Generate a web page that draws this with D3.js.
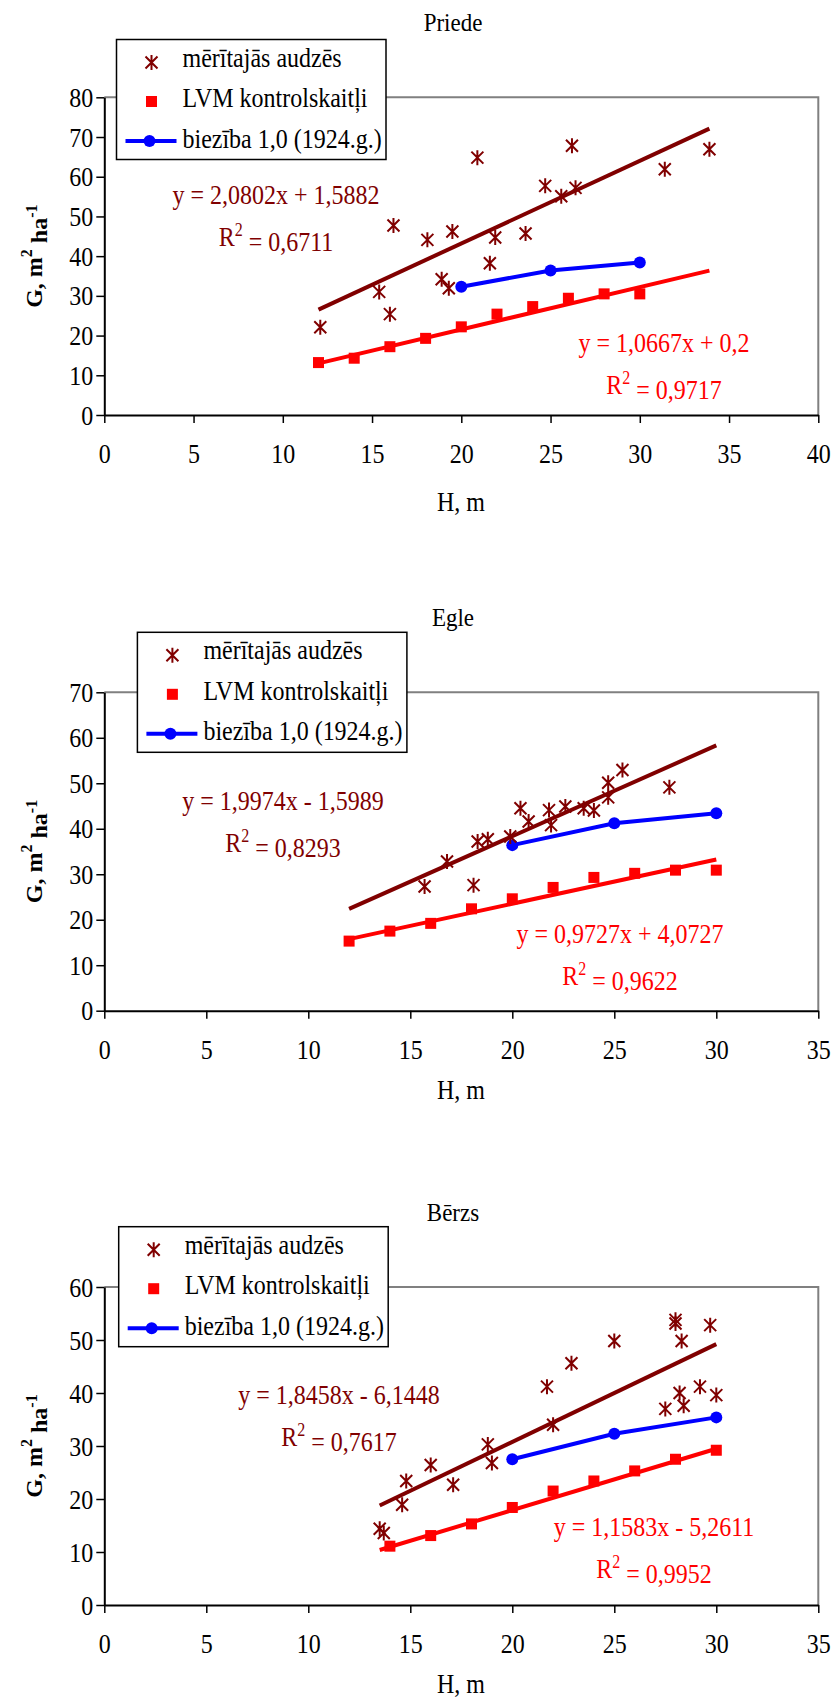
<!DOCTYPE html>
<html lang="lv">
<head>
<meta charset="UTF-8">
<title>G pret H: Priede, Egle, Bērzs</title>
<script src="https://cdn.jsdelivr.net/npm/d3@7"></script>
<style>
  body { margin: 0; background: #fff; }
  svg text { font-family: "Liberation Serif", "Times New Roman", serif; fill: #000; }
</style>
</head>
<body>
<svg id="chart" width="834" height="1702"></svg>
<script>
// ---- data ----
const chartNames = ["Priede", "Egle", "Bērzs"];
const legendNames = ["mērītajās audzēs", "LVM kontrolskaitļi", "biezība 1,0 (1924.g.)"];

// Priede
const priedeMeasH = [12.1, 15.4, 16.0, 16.2, 18.1, 19.5, 18.9, 19.3, 20.9, 21.6, 21.9, 23.6, 24.7, 25.6, 26.4, 26.2, 31.4, 33.9];
const priedeMeasG = [22.1, 31.0, 25.4, 47.7, 44.1, 46.2, 34.2, 31.9, 64.8, 38.2, 44.7, 45.7, 57.7, 55.1, 57.2, 67.8, 61.9, 66.9];
const priedeLvmH = [12, 14, 16, 18, 20, 22, 24, 26, 28, 30];
const priedeLvmG = [13.2, 14.3, 17.2, 19.3, 22.2, 25.4, 27.3, 29.4, 30.5, 30.5];
const priedeBioH = [20, 25, 30];
const priedeBioG = [32.3, 36.4, 38.4];
const priedeTrend = [[2.0802, 1.5882], [1.0667, 0.2]];
const priedeEq = [["y = 2,0802x + 1,5882", "0,6711"], ["y = 1,0667x + 0,2", "0,9717"]];

// Egle
const egleMeasH = [15.7, 16.8, 18.1, 18.3, 18.8, 19.9, 20.4, 20.8, 21.8, 21.9, 22.6, 23.5, 24.0, 24.7, 24.7, 25.4, 27.7];
const egleMeasG = [27.3, 32.8, 27.6, 37.2, 37.7, 38.3, 44.5, 41.6, 44.1, 40.8, 44.9, 44.5, 44.0, 50.1, 46.9, 52.9, 49.1];
const egleLvmH = [12, 14, 16, 18, 20, 22, 24, 26, 28, 30];
const egleLvmG = [15.3, 17.5, 19.2, 22.4, 24.6, 27.1, 29.3, 30.2, 30.9, 30.9];
const egleBioH = [20, 25, 30];
const egleBioG = [36.4, 41.2, 43.4];
const egleTrend = [[1.9974, -1.5989], [0.9727, 4.0727]];
const egleEq = [["y = 1,9974x - 1,5989", "0,8293"], ["y = 0,9727x + 4,0727", "0,9622"]];

// Bērzs
const berzsMeasH = [13.5, 13.7, 14.6, 14.8, 16.0, 17.1, 18.8, 19.0, 21.7, 22.0, 22.9, 25.0, 27.5, 28.0, 28.0, 28.2, 28.3, 28.4, 29.2, 29.7, 30.0];
const berzsMeasG = [14.4, 13.6, 18.9, 23.4, 26.4, 22.7, 30.3, 26.8, 41.2, 34.0, 45.6, 49.8, 37.0, 53.8, 53.1, 40.0, 49.8, 37.6, 41.2, 52.8, 39.6];
const berzsLvmH = [14, 16, 18, 20, 22, 24, 26, 28, 30];
const berzsLvmG = [11.1, 13.1, 15.3, 18.4, 21.5, 23.4, 25.3, 27.5, 29.2];
const berzsBioH = [20, 25, 30];
const berzsBioG = [27.5, 32.3, 35.4];
const berzsTrend = [[1.8458, -6.1448], [1.1583, -5.2611]];
const berzsEq = [["y = 1,8458x - 6,1448", "0,7617"], ["y = 1,1583x - 5,2611", "0,9952"]];

const xMaxes = [40, 35, 35];
const yMaxes = [80, 70, 60];

// ---- layout ----
const L = 104.3, R = 818.3;
const tops = [97.3, 692.3, 1287];
const bottoms = [415, 1010.7, 1605];
const legendPos = [[116.5, 39.5], [137.4, 632.3], [118.7, 1226.7]];
// equation label centres (x, baseline of first line)
const eqPos = [
  [[276, 204], [664, 352]],
  [[283, 810], [620, 943]],
  [[339, 1404], [654, 1536]]
];
const xTitleGap = [96, 88, 88];
const SY = 1.12; // the original text is a little taller than it is wide

const BROWN = "#800000", RED = "#ff0000", BLUE = "#0000ff";
const svg = d3.select("#chart");

const charts = [
  { meas: [priedeMeasH, priedeMeasG], lvm: [priedeLvmH, priedeLvmG], bio: [priedeBioH, priedeBioG], trend: priedeTrend, eq: priedeEq },
  { meas: [egleMeasH, egleMeasG], lvm: [egleLvmH, egleLvmG], bio: [egleBioH, egleBioG], trend: egleTrend, eq: egleEq },
  { meas: [berzsMeasH, berzsMeasG], lvm: [berzsLvmH, berzsLvmG], bio: [berzsBioH, berzsBioG], trend: berzsTrend, eq: berzsEq }
];

const starPath = "M-6,-6L6,6M-6,6L6,-6M0,-7.5V7.5";

function drawStar(sel) {
  sel.append("path").attr("d", starPath).attr("fill", "none")
    .attr("stroke", BROWN).attr("stroke-width", 2);
}

// text placed at (x, y) baseline, slightly stretched vertically
function stext(parent, x, y, size) {
  return parent.append("text")
    .attr("transform", `translate(${x},${y}) scale(1,${SY})`)
    .style("font-size", size + "px");
}

function rSquared(sel, val) {
  sel.append("tspan").text("R");
  sel.append("tspan").attr("dy", "-0.55em").style("font-size", "16px").text("2");
  sel.append("tspan").attr("dy", "0.55em").text(" = " + val);
}

charts.forEach((c, i) => {
  const top = tops[i], bottom = bottoms[i];
  const g = svg.append("g");
  const x = d3.scaleLinear().domain([0, xMaxes[i]]).range([L, R]);
  const y = d3.scaleLinear().domain([0, yMaxes[i]]).range([bottom, top]);

  // plot frame top / right
  g.append("path")
    .attr("d", `M${L},${top}H${R}V${bottom}`)
    .attr("fill", "none").attr("stroke", "#808080").attr("stroke-width", 2);

  const xa = g.append("g").attr("transform", `translate(0,${bottom})`)
    .call(d3.axisBottom(x).tickValues(d3.range(0, xMaxes[i] + 1, 5))
      .tickSize(8).tickSizeOuter(0));
  const ya = g.append("g").attr("transform", `translate(${L},0)`)
    .call(d3.axisLeft(y).tickValues(d3.range(0, yMaxes[i] + 1, 10))
      .tickSize(8).tickSizeOuter(0));
  [xa, ya].forEach(a => {
    a.attr("font-size", 24).attr("font-family", null);
    a.select(".domain").attr("stroke", "#000").attr("stroke-width", 2);
    a.selectAll(".tick line").attr("stroke", "#000").attr("stroke-width", 1.5);
  });
  xa.selectAll(".tick text").attr("y", null).attr("dy", null)
    .attr("transform", `translate(0,48) scale(1,${SY})`);
  ya.selectAll(".tick text").attr("x", null).attr("dy", null)
    .attr("transform", `translate(-11,9) scale(1,${SY})`);

  // trend lines over the x-range of all series
  const allH = c.meas[0].concat(c.lvm[0]);
  const ext = d3.extent(allH);
  const trendColors = [BROWN, RED];
  c.trend.forEach((t, k) => {
    g.append("line")
      .attr("x1", x(ext[0])).attr("y1", y(t[0] * ext[0] + t[1]))
      .attr("x2", x(ext[1])).attr("y2", y(t[0] * ext[1] + t[1]))
      .attr("stroke", trendColors[k]).attr("stroke-width", 4);
  });

  // biezība 1,0 line
  const bio = c.bio[0].map((h, k) => [h, c.bio[1][k]]);
  g.append("path").datum(bio)
    .attr("d", d3.line().x(d => x(d[0])).y(d => y(d[1])))
    .attr("fill", "none").attr("stroke", BLUE).attr("stroke-width", 4);
  g.selectAll(".bio").data(bio).join("circle")
    .attr("cx", d => x(d[0])).attr("cy", d => y(d[1])).attr("r", 6).attr("fill", BLUE);

  // LVM squares
  const lvm = c.lvm[0].map((h, k) => [h, c.lvm[1][k]]);
  g.selectAll(".lvm").data(lvm).join("rect")
    .attr("x", d => x(d[0]) - 5.5).attr("y", d => y(d[1]) - 5.5)
    .attr("width", 11).attr("height", 11).attr("fill", RED);

  // measured stands
  const meas = c.meas[0].map((h, k) => [h, c.meas[1][k]]);
  g.selectAll(".meas").data(meas).join("g")
    .attr("transform", d => `translate(${x(d[0])},${y(d[1])})`)
    .call(drawStar);

  // equations
  c.eq.forEach((e, k) => {
    const [ex, ey] = eqPos[i][k];
    const col = trendColors[k];
    stext(g, ex, ey, 24).attr("text-anchor", "middle").style("fill", col).text(e[0]);
    stext(g, ex, ey + 42, 24).attr("text-anchor", "middle").style("fill", col).call(rSquared, e[1]);
  });

  // legend
  const [lx, ly] = legendPos[i];
  const lg = g.append("g").attr("transform", `translate(${lx},${ly})`);
  lg.append("rect").attr("width", 269.5).attr("height", 120)
    .attr("fill", "#fff").attr("stroke", "#000").attr("stroke-width", 1.5);
  lg.append("g").attr("transform", "translate(35,23)").call(drawStar);
  lg.append("rect").attr("x", 35 - 5.5).attr("y", 62 - 5.5).attr("width", 11).attr("height", 11).attr("fill", RED);
  lg.append("line").attr("x1", 9).attr("x2", 60).attr("y1", 101.5).attr("y2", 101.5)
    .attr("stroke", BLUE).attr("stroke-width", 4);
  lg.append("circle").attr("cx", 33).attr("cy", 101.5).attr("r", 6).attr("fill", BLUE);
  legendNames.forEach((d, k) => stext(lg, 66, 27 + k * 40.5, 24).text(d));

  // title
  stext(g, 453, top - 66, 23).attr("text-anchor", "middle").text(chartNames[i]);

  // axis titles
  stext(g, 461, bottom + xTitleGap[i], 24).attr("text-anchor", "middle").text("H, m");
  const yl = g.append("text")
    .attr("transform", `translate(42,${(top + bottom) / 2}) rotate(-90)`)
    .attr("text-anchor", "middle").style("font-size", "24px").style("font-weight", "bold");
  yl.append("tspan").text("G, m");
  yl.append("tspan").attr("dy", "-0.6em").style("font-size", "16px").text("2");
  yl.append("tspan").attr("dy", "0.6em").text(" ha");
  yl.append("tspan").attr("dy", "-0.6em").style("font-size", "16px").text("-1");
});
</script>
</body>
</html>
